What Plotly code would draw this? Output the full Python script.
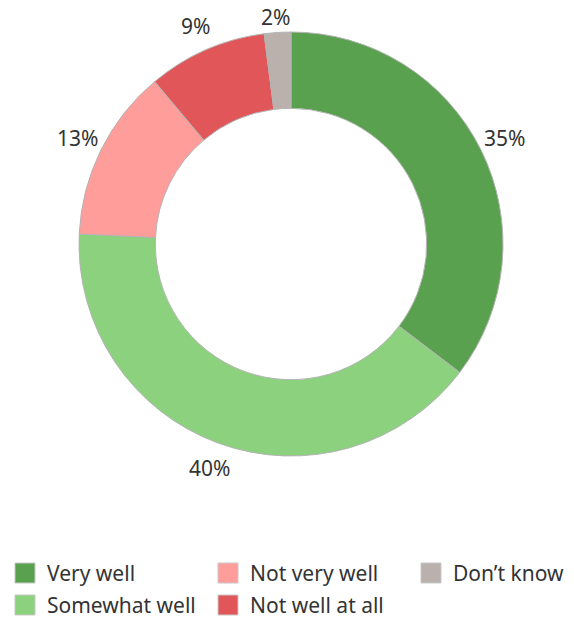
import math
import plotly.graph_objects as go

# Survey responses, in slice order (clockwise from 12 o'clock)
categories = ["Very well", "Somewhat well", "Not very well", "Not well at all", "Don’t know"]
shares = [35, 40, 13, 9, 2]
colors = ["#59A14F", "#8CD17D", "#FF9D9A", "#E15759", "#BAB0AC"]

# Legend grid: column-major, two rows
legend_order = ["Very well", "Somewhat well", "Not very well", "Not well at all", "Don’t know"]

W, H = 574, 621
FONT = "Noto Sans, Lato, sans-serif"
TEXT_COLOR = "#333333"

cx, cy, r = 291, 244, 212  # pie centre / radius in pixels
label_dist = 238           # distance of value labels from the centre
label_top_min = 17         # keep value labels clear of the top edge


def px_to_paper(x, y):
    return x / W, 1 - y / H


fig = go.Figure(
    go.Pie(
        labels=categories,
        values=shares,
        marker=dict(colors=colors, line=dict(color="#B4B4B4", width=1)),
        hole=0.64,
        sort=False,
        direction="clockwise",
        rotation=0,
        textinfo="none",
        hoverinfo="label+percent",
        showlegend=False,
        domain=dict(
            x=[(cx - r) / W, (cx + r) / W],
            y=[(H - cy - r) / H, (H - cy + r) / H],
        ),
    )
)

annotations = []

# Value labels placed outside each slice at its mid-angle
total = sum(shares)
cum = 0
for val in shares:
    mid = (cum + val / 2) / total * 2 * math.pi
    cum += val
    lx = cx + label_dist * math.sin(mid)
    ly = max(cy - label_dist * math.cos(mid), label_top_min)
    px, py = px_to_paper(lx, ly)
    annotations.append(dict(
        text=f"{val}%", xref="paper", yref="paper", x=px, y=py,
        xanchor="center", yanchor="middle", showarrow=False,
        font=dict(family=FONT, size=21, color=TEXT_COLOR),
    ))

# Hand-built legend so entries fill column by column
col_x = [15, 218, 421]
row_y = [573, 605]
sq = 20
shapes = []
color_of = dict(zip(categories, colors))
for i, name in enumerate(legend_order):
    col, row = divmod(i, 2)
    x0 = col_x[col]
    yc = row_y[row]
    shapes.append(dict(
        type="rect", xref="paper", yref="paper",
        x0=x0 / W, x1=(x0 + sq) / W,
        y0=1 - (yc + sq / 2) / H, y1=1 - (yc - sq / 2) / H,
        fillcolor=color_of[name], line=dict(color="#C8C8C8", width=1),
    ))
    annotations.append(dict(
        text=name, xref="paper", yref="paper",
        x=(x0 + sq + 10) / W, y=1 - yc / H,
        xanchor="left", yanchor="middle", showarrow=False,
        font=dict(family=FONT, size=21, color=TEXT_COLOR),
    ))

fig.update_layout(
    width=W, height=H,
    margin=dict(l=0, r=0, t=0, b=0),
    paper_bgcolor="white", plot_bgcolor="white",
    shapes=shapes, annotations=annotations,
)

fig.write_html("out.html")
